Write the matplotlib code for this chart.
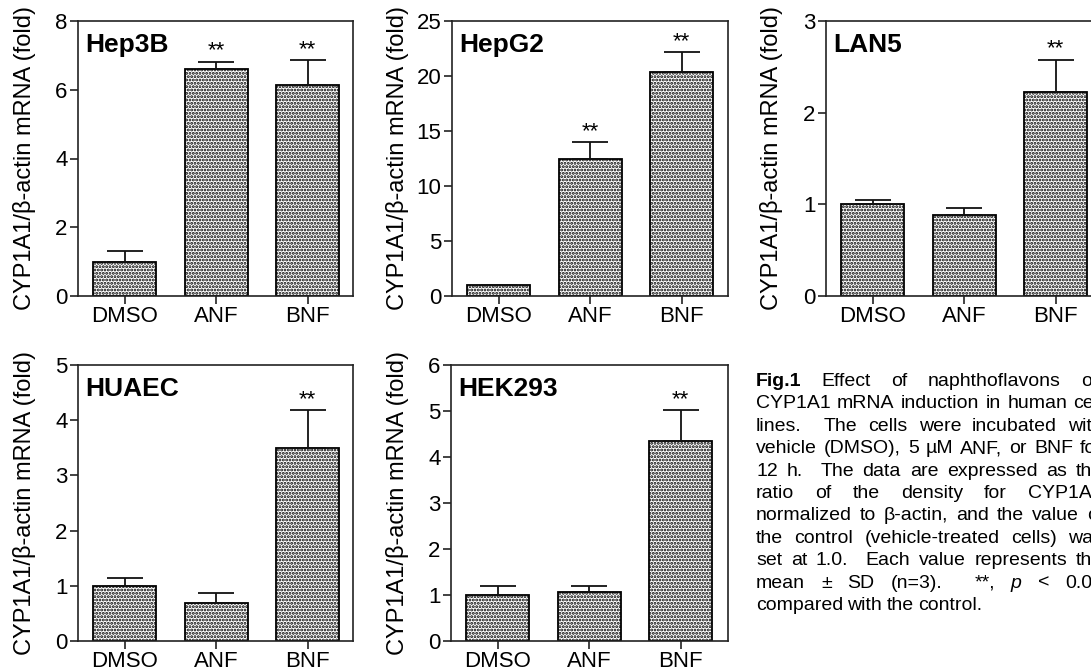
import numpy as np
import matplotlib.pyplot as plt
from matplotlib.transforms import blended_transform_factory

plt.rcParams['font.family'] = ['Liberation Sans', 'DejaVu Sans']
plt.rcParams['hatch.linewidth'] = 1.4

# data
conditions = ['DMSO', 'ANF', 'BNF']
cell_lines = ['Hep3B', 'HepG2', 'LAN5', 'HUAEC', 'HEK293']

hep3b_mean = [1.0, 6.6, 6.15]
hep3b_sd = [0.31, 0.22, 0.72]
hepg2_mean = [1.0, 12.5, 20.4]
hepg2_sd = [0.0, 1.5, 1.8]
lan5_mean = [1.0, 0.88, 2.23]
lan5_sd = [0.05, 0.08, 0.35]
huaec_mean = [1.0, 0.68, 3.5]
huaec_sd = [0.15, 0.19, 0.68]
hek293_mean = [1.0, 1.06, 4.35]
hek293_sd = [0.2, 0.13, 0.67]

means = [hep3b_mean, hepg2_mean, lan5_mean, huaec_mean, hek293_mean]
sds = [hep3b_sd, hepg2_sd, lan5_sd, huaec_sd, hek293_sd]
signif = [[0, 1, 1], [0, 1, 1], [0, 0, 1], [0, 0, 1], [0, 0, 1]]
y_max = [8, 25, 3, 5, 6]
y_step = [2, 5, 1, 1, 1]

W, H = 1091, 672
fig = plt.figure(figsize=(W / 100, H / 100), dpi=100)

# panel boxes in pixels: left, right, top, bottom, y-label right edge
boxes = [
    (78, 353, 21, 296, 36),
    (452, 728, 21, 296, 409),
    (826, 1102, 21, 296, 783),
    (78, 353, 365, 641, 36),
    (451, 728, 365, 641, 409),
]

for i, name in enumerate(cell_lines):
    l, r, t, b, lab_r = boxes[i]
    ax = fig.add_axes([l / W, 1 - b / H, (r - l) / W, (b - t) / H])
    x = np.arange(len(conditions))
    m = np.array(means[i])
    s = np.array(sds[i])
    ax.bar(x, m, width=0.69, color='white', edgecolor='black',
           hatch='.....', linewidth=1.3, zorder=2)
    ax.errorbar(x, m, yerr=[np.zeros_like(s), s], fmt='none', ecolor='#111111',
                elinewidth=1.3, capsize=13, capthick=1.3, zorder=3)
    for xi, mi, si, sg in zip(x, m, s, signif[i]):
        if sg:
            ax.annotate('**', xy=(xi, mi + si), xytext=(0, 0), textcoords='offset points',
                        ha='center', va='bottom', fontsize=16)

    ax.set_xlim(-0.51, -0.51 + (r - l) / 91.5)
    ax.set_ylim(0, y_max[i])
    ax.set_yticks(np.arange(0, y_max[i] + 0.01, y_step[i]))
    ax.set_xticks(x)
    ax.set_xticklabels(conditions)
    for sp in ax.spines.values():
        sp.set_color('#222222')
        sp.set_linewidth(1.2)
    ax.tick_params(axis='both', labelsize=16, color='#222222', width=1.2,
                   length=6, direction='out')
    ax.tick_params(axis='x', pad=1.5)
    ax.tick_params(axis='y', pad=1.5)

    ax.set_ylabel('CYP1A1/\u03b2-actin mRNA (fold)', fontsize=17)
    ax.yaxis.set_label_coords(lab_r / W, 0.5,
                              transform=blended_transform_factory(fig.transFigure, ax.transAxes))

    ax.annotate(name, xy=(-0.43, 1), xycoords=('data', 'axes fraction'),
                xytext=(0, -22.5), textcoords='offset points',
                ha='left', va='baseline', fontsize=19, fontweight='bold')

# caption, justified line by line
caption = [
    'Fig.1 Effect of naphthoflavons on',
    'CYP1A1 mRNA induction in human cell',
    'lines.  The cells were incubated with',
    'vehicle (DMSO), 5 \u00b5M ANF, or BNF for',
    '12 h.  The data are expressed as the',
    'ratio of the density for CYP1A1',
    'normalized to \u03b2-actin, and the value of',
    'the control (vehicle-treated cells) was',
    'set at 1.0.  Each value represents the',
    'mean \u00b1 SD (n=3).  **, p < 0.05',
    'compared with the control.',
]
x0, x1 = 756, 1103
renderer = fig.canvas.get_renderer()
for k, line in enumerate(caption):
    y = 386 + 22.4 * k
    words = line.split(' ')
    toks = []
    gap_w = 0
    for w in words:
        if w == '':
            gap_w += 1
            continue
        style = {}
        if w == 'Fig.1':
            style['fontweight'] = 'bold'
        if w == 'p':
            style['fontstyle'] = 'italic'
        toks.append([w, style, gap_w if toks else 0])
        gap_w = 1
    texts = []
    for w, style, g in toks:
        tx = fig.text(x0 / W, 1 - y / H, w, fontsize=14, va='baseline', ha='left', **style)
        texts.append(tx)
    widths = [tx.get_window_extent(renderer).width for tx in texts]
    weights = [tk[2] for tk in toks]
    if k < len(caption) - 1:
        gap = (x1 - x0 - sum(widths)) / max(sum(weights), 1)
    else:
        gap = 4.2
    pos = x0
    for tx, wd, g in zip(texts, widths, weights):
        pos += g * gap
        tx.set_x(pos / W)
        pos += wd

fig.savefig('out.png', dpi=100)
